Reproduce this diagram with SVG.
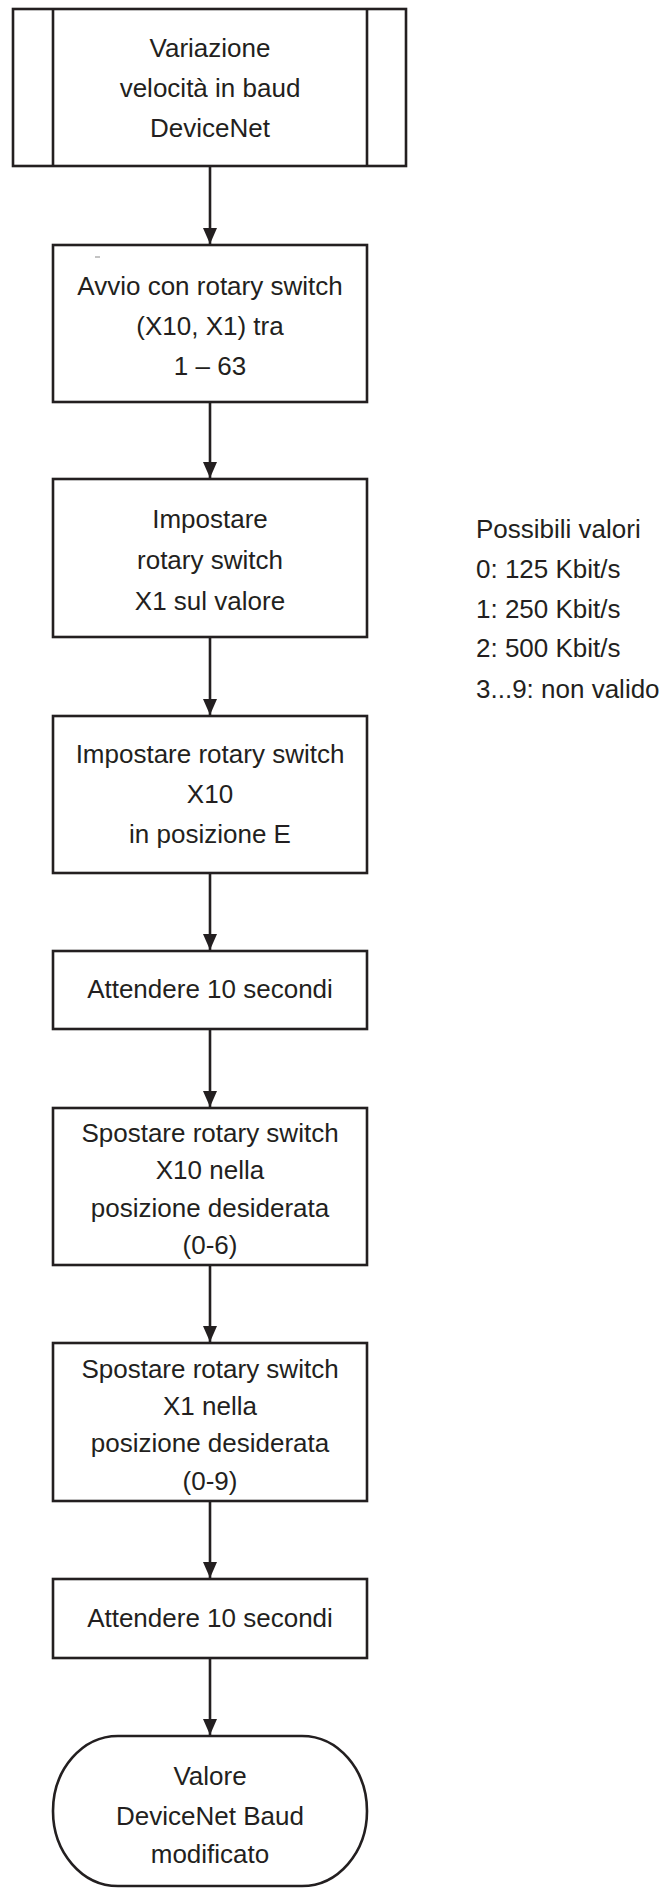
<svg xmlns="http://www.w3.org/2000/svg" width="664" height="1888" viewBox="0 0 664 1888">
<style>
.box{fill:#fff;stroke:#231f20;stroke-width:2.6}
.t{font-family:"Liberation Sans",Arial,sans-serif;font-size:26px;fill:#231f20;text-anchor:middle}
.l{font-family:"Liberation Sans",Arial,sans-serif;font-size:26px;fill:#231f20}
.c{stroke:#231f20;stroke-width:2.6;fill:none;marker-end:url(#ah)}
</style>
<defs>
<marker id="ah" markerUnits="userSpaceOnUse" markerWidth="16" markerHeight="14" refX="16" refY="7" orient="auto" viewBox="0 0 16 14">
<path d="M0,0 L16,7 L0,14 Z" fill="#231f20"/>
</marker>
</defs>
<rect width="664" height="1888" fill="#fff"/>
<g id="connectors">
<line class="c" x1="210" y1="166" x2="210" y2="244"/>
<line class="c" x1="210" y1="402" x2="210" y2="478"/>
<line class="c" x1="210" y1="637" x2="210" y2="715"/>
<line class="c" x1="210" y1="873" x2="210" y2="950"/>
<line class="c" x1="210" y1="1029" x2="210" y2="1107"/>
<line class="c" x1="210" y1="1265" x2="210" y2="1342"/>
<line class="c" x1="210" y1="1501" x2="210" y2="1578"/>
<line class="c" x1="210" y1="1658" x2="210" y2="1735"/>
</g>
<g id="n1">
<rect class="box" x="13" y="9" width="393" height="157"/>
<line x1="53" y1="9" x2="53" y2="166" stroke="#231f20" stroke-width="2.6"/>
<line x1="367" y1="9" x2="367" y2="166" stroke="#231f20" stroke-width="2.6"/>
<text class="t" x="210" y="57">Variazione</text>
<text class="t" x="210" y="97">velocità in baud</text>
<text class="t" x="210" y="137">DeviceNet</text>
</g>
<g id="n2">
<rect class="box" x="53" y="245" width="314" height="157"/>
<line x1="95" y1="257" x2="100" y2="257" stroke="#888" stroke-width="1"/>
<text class="t" x="210" y="295">Avvio con rotary switch</text>
<text class="t" x="210" y="335">(X10, X1) tra</text>
<text class="t" x="210" y="375">1 – 63</text>
</g>
<g id="n3">
<rect class="box" x="53" y="479" width="314" height="158"/>
<text class="t" x="210" y="528">Impostare</text>
<text class="t" x="210" y="569">rotary switch</text>
<text class="t" x="210" y="610">X1 sul valore</text>
</g>
<g id="note">
<text class="l" x="476" y="538">Possibili valori</text>
<text class="l" x="476" y="578">0: 125 Kbit/s</text>
<text class="l" x="476" y="618">1: 250 Kbit/s</text>
<text class="l" x="476" y="657">2: 500 Kbit/s</text>
<text class="l" x="476" y="698">3...9: non valido</text>
</g>
<g id="n4">
<rect class="box" x="53" y="716" width="314" height="157"/>
<text class="t" x="210" y="763">Impostare rotary switch</text>
<text class="t" x="210" y="803">X10</text>
<text class="t" x="210" y="843">in posizione E</text>
</g>
<g id="n5">
<rect class="box" x="53" y="951" width="314" height="78"/>
<text class="t" x="210" y="998">Attendere 10 secondi</text>
</g>
<g id="n6">
<rect class="box" x="53" y="1108" width="314" height="157"/>
<text class="t" x="210" y="1142">Spostare rotary switch</text>
<text class="t" x="210" y="1179">X10 nella</text>
<text class="t" x="210" y="1217">posizione desiderata</text>
<text class="t" x="210" y="1254">(0-6)</text>
</g>
<g id="n7">
<rect class="box" x="53" y="1343" width="314" height="158"/>
<text class="t" x="210" y="1378">Spostare rotary switch</text>
<text class="t" x="210" y="1415">X1 nella</text>
<text class="t" x="210" y="1452">posizione desiderata</text>
<text class="t" x="210" y="1490">(0-9)</text>
</g>
<g id="n8">
<rect class="box" x="53" y="1579" width="314" height="79"/>
<text class="t" x="210" y="1627">Attendere 10 secondi</text>
</g>
<g id="n9">
<path class="box" d="M118,1736 H302 A65,75 0 0 1 302,1886 H118 A65,75 0 0 1 118,1736 Z"/>
<text class="t" x="210" y="1785">Valore</text>
<text class="t" x="210" y="1825">DeviceNet Baud</text>
<text class="t" x="210" y="1863">modificato</text>
</g>
</svg>
